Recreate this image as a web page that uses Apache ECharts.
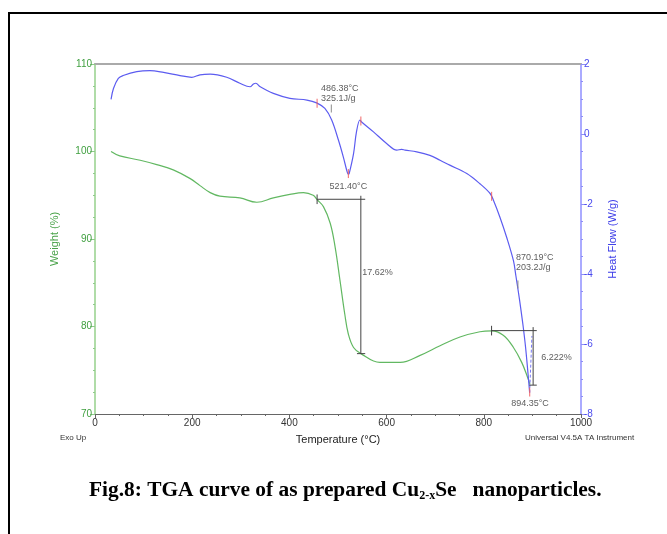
<!DOCTYPE html>
<html>
<head>
<meta charset="utf-8">
<script src="https://cdn.jsdelivr.net/npm/echarts@6/dist/echarts.min.js"></script>
<style>
  html, body { margin: 0; padding: 0; background: #fff; }
  #chart { width: 667px; height: 534px; }
</style>
</head>
<body>
<div id="chart"></div>
<script>
// TGA weight-loss curve (left axis, %)
const tgaTemp = [33, 51, 93, 127, 161, 196, 216, 237, 257, 298, 333, 367, 401, 429, 449, 457, 470, 484, 494, 504, 514, 521, 532, 547, 586, 628, 669, 710, 751, 792, 816, 840, 861, 878, 890, 895];
const tgaWeight = [100.0, 99.5, 99.0, 98.5, 97.9, 96.9, 96.1, 95.3, 94.9, 94.7, 94.2, 94.7, 95.1, 95.3, 95.0, 94.5, 93.7, 91.8, 89.1, 85.3, 81.4, 79.2, 77.6, 76.9, 75.9, 75.9, 76.7, 77.8, 78.8, 79.4, 79.5, 79.0, 77.6, 75.9, 74.2, 73.4];

// DSC heat-flow curve (right axis, W/g)
const dscTemp = [33, 38, 48, 58, 86, 113, 141, 175, 199, 216, 237, 271, 298, 319, 326, 331, 340, 367, 401, 436, 456, 473, 487, 501, 511, 519, 521.4, 523, 532, 538, 545, 548, 573, 600, 621, 631, 638, 662, 689, 710, 730, 765, 792, 813, 820, 833, 847, 861, 866, 871, 876, 881, 886, 891, 894.35];
const dscHeat = [0.99, 1.30, 1.59, 1.67, 1.78, 1.81, 1.76, 1.67, 1.62, 1.69, 1.71, 1.62, 1.45, 1.35, 1.43, 1.45, 1.35, 1.16, 1.02, 0.97, 0.89, 0.73, 0.40, -0.18, -0.66, -1.09, -1.15, -1.13, -0.56, 0.06, 0.40, 0.35, 0.06, -0.27, -0.46, -0.44, -0.46, -0.51, -0.61, -0.75, -0.89, -1.13, -1.42, -1.70, -1.90, -2.37, -2.95, -3.62, -4.05, -4.50, -4.98, -5.50, -6.10, -6.85, -7.39];
// trace returning after the final endotherm
const dscTailTemp = [894.35, 899];
const dscTailHeat = [-7.39, -5.77];

// axis ticks
const tempTicks = [0, 1000, 200];
const weightTicks = [70, 110, 10];
const heatTicks = [-8, 2, 2];

// peak analysis: integration limits, onset markers and their notes
const peakLimitTemp = [457, 547, 521.4, 816, 894.35];
const peakLimitHeat = [0.88, 0.37, -1.13, -1.78, -7.37];
const onsetTemp = [486.38, 870.19];
const onsetHeat = [0.73, -4.30];
const onsetNotes = [
  [465, 1.17, '486.38°C\n325.1J/g'],
  [866, -3.67, '870.19°C\n203.2J/g']
];
const peakNotes = [
  [521.4, -1.50, '521.40°C'],
  [895, -7.69, '894.35°C']
];

// weight-step brackets
const stepStartTemp = [457, 816];
const stepBarTemp = [547, 901.5];
const stepEndTemp = [556, 909];
const stepUpper = [94.54, 79.53];
const stepLower = [76.9, 73.3];
const stepText = ['17.62%', '6.222%'];
const stepNoteTemp = [550, 918];
const stepNoteWeight = [86.2, 76.4];

const chart = echarts.init(document.getElementById('chart'), null, { renderer: 'canvas' });

const font = 'Liberation Sans, Arial, sans-serif';
const serif = 'Liberation Serif, Times New Roman, serif';
const green = '#62b862';
const blue = '#5c5cf0';
const ink = '#333';

const pair = (xs, ys) => xs.map((x, i) => [x, ys[i]]);

const bracketSeries = [];
stepStartTemp.forEach((t0, i) => {
  const segs = [
    [[t0, stepUpper[i]], [stepEndTemp[i], stepUpper[i]]],
    [[stepBarTemp[i], stepUpper[i] + 0.4], [stepBarTemp[i], stepLower[i]]],
    [[stepBarTemp[i] - 8, stepLower[i]], [stepEndTemp[i], stepLower[i]]],
    [[t0, stepUpper[i] + 0.55], [t0, stepUpper[i] - 0.55]]
  ];
  segs.forEach(seg => bracketSeries.push({
    type: 'line', yAxisIndex: 0, data: seg, symbol: 'none', silent: true,
    lineStyle: { color: '#444', width: 1 }, z: 3
  }));
});

const noteLabel = (extra) => Object.assign({
  show: true, formatter: p => p.value[2],
  fontFamily: font, fontSize: 9, color: ink, lineHeight: 10
}, extra);

chart.setOption({
  animation: false,
  backgroundColor: '#fff',
  title: {
    text: '{b|Fig.8: TGA curve of as prepared Cu}{s|2-x}{b|Se   nanoparticles.}',
    left: 89, top: 478, padding: 0,
    textStyle: {
      rich: {
        b: { fontFamily: serif, fontWeight: 'bold', fontSize: 21.4, color: '#000', lineHeight: 24 },
        s: { fontFamily: serif, fontWeight: 'bold', fontSize: 12, color: '#000', lineHeight: 13, verticalAlign: 'bottom' }
      }
    }
  },
  graphic: [
    { type: 'rect', shape: { x: 9, y: 13, width: 700, height: 560 }, style: { fill: 'none', stroke: '#000', lineWidth: 2 }, silent: true },
    { type: 'text', left: 60, top: 434, style: { text: 'Exo Up', font: '8px ' + font, fill: ink } },
    { type: 'text', left: 525, top: 434, style: { text: 'Universal V4.5A TA Instrument', font: '8px ' + font, fill: ink } }
  ],
  grid: { left: 95, right: 86, top: 64, bottom: 120, containLabel: false },
  xAxis: [{
    type: 'value', min: tempTicks[0], max: tempTicks[1], interval: tempTicks[2],
    name: 'Temperature (°C)', nameLocation: 'middle', nameGap: 20,
    nameTextStyle: { fontFamily: font, fontSize: 11, color: '#222' },
    axisLine: { onZero: false, lineStyle: { color: '#666', width: 1 } },
    axisTick: { length: 4, lineStyle: { color: '#666' } },
    minorTick: { show: true, splitNumber: 4, length: 2, lineStyle: { color: '#666' } },
    axisLabel: { fontFamily: font, fontSize: 10, color: ink, margin: 4, formatter: v => String(v) },
    splitLine: { show: false }
  }, {
    type: 'value', position: 'top', min: tempTicks[0], max: tempTicks[1],
    axisLine: { show: true, onZero: false, lineStyle: { color: '#aaa', width: 2 } },
    axisTick: { show: false }, axisLabel: { show: false }, splitLine: { show: false }
  }],
  yAxis: [{
    type: 'value', position: 'left', min: weightTicks[0], max: weightTicks[1], interval: weightTicks[2],
    name: 'Weight (%)', nameLocation: 'middle', nameGap: 35, nameRotate: 90,
    nameTextStyle: { fontFamily: font, fontSize: 11, color: '#4aa34a' },
    axisLine: { show: true, onZero: false, lineStyle: { color: '#b0dca8', width: 2 } },
    axisTick: { show: true, length: 5, lineStyle: { color: '#8fc98a' } },
    minorTick: { show: true, splitNumber: 4, length: 2, lineStyle: { color: '#8fc98a' } },
    axisLabel: { fontFamily: font, fontSize: 10, color: '#3f9f3f', margin: 3 },
    splitLine: { show: false }
  }, {
    type: 'value', position: 'right', min: heatTicks[0], max: heatTicks[1], interval: heatTicks[2],
    name: 'Heat Flow (W/g)', nameLocation: 'middle', nameGap: 26, nameRotate: 90,
    nameTextStyle: { fontFamily: font, fontSize: 11, color: '#3a3ae8' },
    axisLine: { show: true, onZero: false, lineStyle: { color: '#ababff', width: 2 } },
    axisTick: { show: true, length: 5, lineStyle: { color: '#8f8ff5' } },
    minorTick: { show: true, splitNumber: 4, length: 2, lineStyle: { color: '#8f8ff5' } },
    axisLabel: { fontFamily: font, fontSize: 10, color: '#4a4aee', margin: 3 },
    splitLine: { show: false }
  }],
  series: [
    {
      name: 'Weight', type: 'line', yAxisIndex: 0, data: pair(tgaTemp, tgaWeight),
      symbol: 'none', smooth: 0.4,
      lineStyle: { color: green, width: 1.2 }, z: 2
    },
    {
      name: 'Heat Flow', type: 'line', yAxisIndex: 1, data: pair(dscTemp, dscHeat),
      symbol: 'none', smooth: 0.35,
      lineStyle: { color: blue, width: 1.2 }, z: 2
    },
    {
      name: 'Heat Flow tail', type: 'line', yAxisIndex: 1, data: pair(dscTailTemp, dscTailHeat),
      symbol: 'none', lineStyle: { color: '#7a7af5', width: 1, type: [3, 2] }, z: 2
    },
    ...bracketSeries,
    {
      name: 'limits', type: 'scatter', yAxisIndex: 1, data: pair(peakLimitTemp, peakLimitHeat),
      symbol: 'rect', symbolSize: [1.2, 9], itemStyle: { color: '#f06060' }, silent: true, z: 4
    },
    {
      name: 'onsets', type: 'scatter', yAxisIndex: 1, data: pair(onsetTemp, onsetHeat),
      symbol: 'rect', symbolSize: [1.2, 8], itemStyle: { color: '#888' }, silent: true, z: 4
    },
    {
      name: 'onset notes', type: 'scatter', yAxisIndex: 1, data: onsetNotes,
      symbolSize: 0, silent: true, z: 5,
      label: noteLabel({ position: 'right', distance: 0, align: 'left' })
    },
    {
      name: 'peak notes', type: 'scatter', yAxisIndex: 1, data: peakNotes,
      symbolSize: 0, silent: true, z: 5,
      label: noteLabel({ position: 'inside', align: 'center' })
    },
    {
      name: 'step notes', type: 'scatter', yAxisIndex: 0,
      data: stepNoteTemp.map((t, i) => [t, stepNoteWeight[i], stepText[i]]),
      symbolSize: 0, silent: true, z: 5,
      label: noteLabel({ position: 'right', distance: 0, align: 'left' })
    }
  ]
});
</script>
</body>
</html>
